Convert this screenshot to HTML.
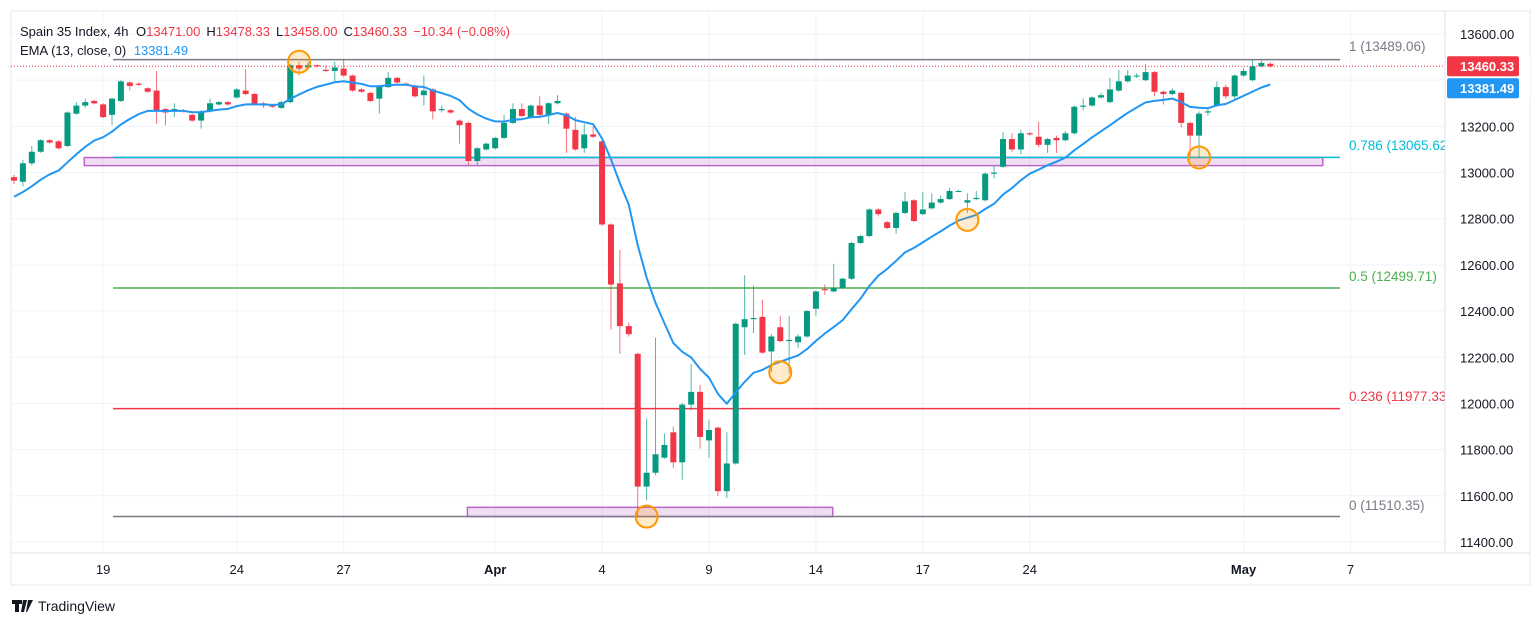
<!DOCTYPE html>
<html><head><meta charset="utf-8"><style>
body{margin:0;background:#fff;font-family:"Liberation Sans",sans-serif;}
svg{display:block}
</style></head><body>
<svg id="chart" width="1536" height="626" viewBox="0 0 1536 626">
<defs><clipPath id="plotclip"><rect x="11" y="11" width="1434" height="542"/></clipPath></defs>
<rect x="11" y="11" width="1519" height="574" fill="#fff" stroke="#e6e8ee"/>
<g id="grid"></g>
<g id="zones"></g>
<g id="fibs" clip-path="url(#plotclip)"></g>
<g id="candles"></g>
<g id="ema"></g>
<g id="marks"></g>
<g id="axes"></g>
<text x="20" y="36" font-size="13" fill="#131722">Spain 35 Index, 4h <tspan dx="4">O</tspan><tspan fill="#f23645">13471.00</tspan><tspan dx="6">H</tspan><tspan fill="#f23645">13478.33</tspan><tspan dx="6">L</tspan><tspan fill="#f23645">13458.00</tspan><tspan dx="6">C</tspan><tspan fill="#f23645">13460.33</tspan><tspan dx="6" fill="#f23645">−10.34 (−0.08%)</tspan></text>
<text x="20" y="55" font-size="13" fill="#131722">EMA (13, close, 0) <tspan dx="4" fill="#2196f3">13381.49</tspan></text>
<g><path d="M12 600h10v4h-3v8h-4v-8h-3zM23 600h4l-3 12h-3zM28 600h5l-6 12h-1z" fill="#131722"/><text x="38" y="611" font-size="14" fill="#131722">TradingView</text></g>
</svg>
<script>
const opens=[12980,12960,13040,13090,13140,13135,13115,13255,13290,13310,13295,13250,13310,13390,13385,13365,13355,13275,13265,13270,13250,13225,13265,13295,13305,13325,13355,13340,13300,13290,13280,13305,13465,13455,13465,13445,13440,13450,13420,13360,13345,13320,13370,13410,13385,13375,13335,13360,13270,13270,13225,13215,13050,13100,13105,13150,13215,13275,13240,13290,13250,13300,13255,13185,13105,13165,13135,12775,12520,12335,12215,11640,11700,11765,11875,11745,11995,12050,11840,11895,11620,11740,12330,12365,12375,12225,12330,12270,12265,12290,12410,12495,12485,12500,12540,12695,12725,12840,12785,12760,12825,12880,12820,12845,12870,12885,12920,12870,12885,12880,12995,13025,13145,13100,13170,13155,13120,13150,13140,13170,13285,13290,13325,13305,13355,13395,13420,13400,13435,13350,13340,13345,13215,13160,13260,13290,13370,13330,13420,13400,13460,13471];
const closes=[12965,13040,13090,13140,13130,13105,13260,13290,13305,13300,13240,13320,13395,13375,13380,13350,13270,13260,13275,13265,13225,13265,13300,13305,13295,13360,13340,13295,13290,13285,13305,13465,13450,13465,13460,13440,13455,13420,13355,13350,13310,13375,13410,13390,13380,13330,13355,13265,13275,13260,13205,13050,13105,13125,13150,13215,13275,13245,13290,13250,13300,13310,13190,13100,13165,13155,12775,12515,12335,12300,11640,11700,11780,11820,11745,11995,12050,11855,11885,11620,11740,12345,12365,12370,12220,12290,12270,12275,12290,12400,12485,12490,12500,12540,12695,12725,12840,12820,12760,12825,12875,12790,12840,12870,12885,12920,12920,12880,12890,12995,13000,13145,13100,13170,13165,13120,13145,13140,13170,13285,13290,13325,13335,13360,13395,13420,13420,13435,13350,13340,13355,13215,13160,13255,13265,13370,13330,13420,13440,13460,13475,13460];
const highs=[12990,13055,13115,13145,13145,13140,13265,13305,13320,13315,13300,13325,13400,13395,13390,13370,13440,13280,13300,13275,13255,13270,13320,13310,13310,13365,13450,13345,13305,13295,13310,13470,13480,13480,13468,13465,13480,13490,13425,13365,13350,13380,13435,13415,13390,13380,13420,13365,13290,13275,13230,13220,13110,13130,13155,13250,13300,13300,13295,13330,13305,13335,13260,13240,13210,13200,13140,12780,12665,12350,12220,11935,12285,11870,11900,12000,12170,12080,11930,11900,11875,12350,12555,12510,12450,12300,12380,12380,12300,12405,12490,12515,12605,12545,12700,12730,12845,12845,12790,12830,12915,12885,12915,12910,12900,12935,12925,12910,12920,13000,13030,13175,13170,13185,13175,13220,13150,13160,13180,13290,13320,13330,13345,13410,13445,13445,13430,13470,13440,13355,13365,13350,13220,13265,13275,13395,13380,13425,13455,13490,13485,13478];
const lows=[12950,12940,13030,13085,13125,13100,13110,13250,13280,13295,13235,13205,13305,13355,13375,13345,13210,13205,13240,13260,13220,13190,13260,13290,13290,13320,13335,13290,13280,13280,13275,13300,13420,13445,13455,13435,13390,13415,13350,13345,13305,13255,13365,13385,13375,13325,13290,13230,13260,13255,13125,13030,13030,13095,13100,13145,13210,13240,13235,13245,13210,13295,13085,13095,13085,13150,12770,12320,12215,12290,11505,11580,11690,11760,11720,11670,11970,11805,11765,11600,11590,11735,12210,12305,12215,12135,12265,12130,12240,12285,12380,12470,12480,12495,12535,12690,12720,12810,12755,12735,12820,12785,12815,12840,12865,12880,12915,12825,12880,12875,12975,13020,13090,13080,13160,13110,13085,13085,13135,13165,13270,13285,13320,13300,13350,13390,13410,13395,13330,13295,13335,13195,13070,13065,13245,13285,13320,13310,13415,13395,13455,13455];
const emaSeed=[12895];
const fibLevels=[1,0.786,0.5,0.236,0];
const fibValues=[13489.06,13065.62,12499.71,11977.33,11510.35];
const fibColors=["#787b86","#00bcd4","#4caf50","#f23645","#787b86"];
const priceTicks=[13600,13400,13200,13000,12800,12600,12400,12200,12000,11800,11600,11400];
const dateLabels=["19","24","27","Apr","4","9","14","17","24","May","7"];
const dateIndex=[10,25,37,54,66,78,90,102,114,138,150];
const circleIdx=[32,71,86,107,133];
const circlePrice=[13480,11510,12135,12795,13065];
const zoneStart=[8,51];const zoneEnd=[147,92];const zoneTop=[13065,11550];const zoneBot=[13030,11510];
const lastPrice=13460.33, emaLast=13381.49;

const NS="http://www.w3.org/2000/svg";
const X0=14,STEP=8.91,PTOP=34,PPX=0.2309,PLOT_R=1445,PLOT_B=553;
const x=i=>X0+i*STEP;
const y=p=>PTOP+(13600-p)*PPX;
function el(tag,attrs,parent){const e=document.createElementNS(NS,tag);for(const k in attrs)e.setAttribute(k,attrs[k]);parent.appendChild(e);return e;}
const $=id=>document.getElementById(id);

priceTicks.forEach(p=>{const l=el('line',{x1:11,x2:PLOT_R,y1:y(p),y2:y(p),stroke:'#f0f3fa'},$('grid'));


const t=el('text',{x:1460,y:y(p)+5,'font-size':13,fill:'#131722'},$('axes'));t.textContent=p.toFixed(2);

});
dateIndex.forEach((d,k)=>{const l=el('line',{x1:x(d),x2:x(d),y1:11,y2:PLOT_B,stroke:'#f0f3fa'},$('grid'));


const t=el('text',{x:x(d),y:574,'font-size':13,fill:'#131722','text-anchor':'middle','font-weight':(dateLabels[k]=="Apr"||dateLabels[k]=="May")?'bold':'normal'},$('axes'));t.textContent=dateLabels[k];

});
const ax1=el('line',{x1:11,x2:1530,y1:PLOT_B,y2:PLOT_B,stroke:'#e0e3eb'},$('axes'));


const ax2=el('line',{x1:PLOT_R,x2:PLOT_R,y1:11,y2:PLOT_B,stroke:'#e0e3eb'},$('axes'));



zoneStart.forEach((s,k)=>{const r=el('rect',{x:x(s)-1,y:y(zoneTop[k]),width:x(zoneEnd[k])-x(s),height:y(zoneBot[k])-y(zoneTop[k]),fill:'rgba(186,104,200,0.22)',stroke:'#ba68c8','stroke-width':1.5},$('zones'));

});

const labelY=[51,150,281,401,510];
fibValues.forEach((v,k)=>{const l=el('line',{x1:113,x2:1340,y1:y(v),y2:y(v),stroke:fibColors[k],'stroke-width':1.5},$('fibs'));


const t=el('text',{x:1349,y:labelY[k],'font-size':13.5,fill:fibColors[k]},$('fibs'));
t.textContent=fibLevels[k]+" ("+v.toFixed(2)+")";

});

const lp=el('line',{x1:11,x2:PLOT_R,y1:y(lastPrice),y2:y(lastPrice),stroke:'#f23645','stroke-dasharray':'1 2'},$('axes'));



opens.forEach((o,i)=>{const c=closes[i],up=c>=o,col=up?'#089981':'#f23645',g=el('g',{},$('candles'));


el('line',{x1:x(i),x2:x(i),y1:y(highs[i]),y2:y(lows[i]),stroke:col,'stroke-opacity':0.7,'stroke-width':1},g);
const t=y(Math.max(o,c)),b=y(Math.min(o,c));
el('rect',{x:x(i)-3,y:t,width:6,height:Math.max(1,b-t),fill:col},g);});

const k2=2/14;let e=emaSeed[0];const pts=[];
closes.forEach((c,i)=>{e=i==0?e:c*k2+e*(1-k2);pts.push(x(i).toFixed(1)+","+y(e).toFixed(1));});
const pl=el('polyline',{points:pts.join(" "),fill:'none',stroke:'#2196f3','stroke-width':2,'stroke-linejoin':'round'},$('ema'));



circleIdx.forEach((ci,k)=>{const c=el('circle',{cx:x(ci),cy:y(circlePrice[k]),r:11,fill:'rgba(255,152,0,0.2)',stroke:'#ff9800','stroke-width':2},$('marks'));

});

// cover the tick under the tags
const cov=el('rect',{x:1446,y:y(lastPrice)-10,width:84,height:44,fill:'#fff'},$('axes'));


[[lastPrice,'#f23645','last-price-tag'],[emaLast,'#2196f3','ema-price-tag']].forEach(([v,col,nm],k)=>{const g=el('g',{},$('axes'));


const yy=k==0?y(v):Math.max(y(v),y(lastPrice)+22);
el('rect',{x:1447,y:yy-10,width:72,height:20,rx:2,fill:col},g);
const t=el('text',{x:1460,y:yy+5,'font-size':13,fill:'#fff','font-weight':'bold'},g);t.textContent=v.toFixed(2);});
</script>
</body></html>
